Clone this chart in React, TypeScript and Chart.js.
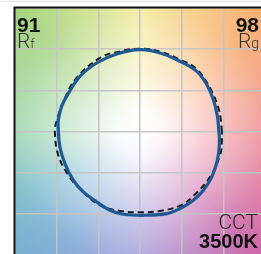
import React, { useEffect, useRef } from "react";
import { Chart, registerables } from "chart.js";

Chart.register(...registerables);

// Test source colour vector curve (normalised a', b')
const testX = [0.943, 0.929, 0.881, 0.802, 0.681, 0.481, 0.24, 0.0, -0.28, -0.52, -0.721, -0.881, -0.941, -0.98, -0.982, -0.962, -0.901, -0.801, -0.681, -0.52, -0.361, -0.201, 0.081, 0.321, 0.481, 0.641, 0.761, 0.862, 0.929, 0.953];
const testY = [0.057, 0.182, 0.386, 0.568, 0.73, 0.852, 0.954, 0.994, 0.942, 0.832, 0.669, 0.426, 0.304, 0.142, 0.057, -0.186, -0.389, -0.591, -0.734, -0.855, -0.956, -1.005, -1.017, -0.998, -0.937, -0.835, -0.713, -0.551, -0.348, -0.146];

// Reference illuminant curve
const refX = [0.982, 0.97, 0.941, 0.841, 0.673, 0.481, 0.24, 0.0, -0.24, -0.481, -0.761, -0.901, -1.001, -1.022, -0.982, -0.862, -0.697, -0.481, -0.24, 0.0, 0.24, 0.481, 0.641, 0.841, 0.962, 0.982];
const refY = [0.0, 0.142, 0.285, 0.528, 0.763, 0.872, 0.97, 1.006, 0.973, 0.893, 0.65, 0.406, 0.122, 0.0, -0.283, -0.527, -0.721, -0.895, -0.965, -0.981, -0.965, -0.9, -0.782, -0.551, -0.283, -0.137];

const axisMin = -1.5;
const axisMax = 1.5;
const axisStep = 0.5;

// hue background colours, clockwise from the +a' direction
const hueFractions = [0, 0.125, 0.25, 0.34, 0.42, 0.5, 0.625, 0.75, 0.875, 1];
const hueColors = ["#f0888e", "#cc66a8", "#a49ada", "#7aa6d6", "#74b8c8", "#98d4ac", "#a6d47e", "#f2ea94", "#f8ae6e", "#f0888e"];

const rfValue = "91";
const rgValue = "98";
const cctValue = "3500K";

const bgPlugin = {
  id: "tm30bg",
  beforeDraw(chart: any) {
    const { ctx, chartArea: a } = chart;
    const w = a.right - a.left;
    const h = a.bottom - a.top;
    const cx = (a.left + a.right) / 2;
    const cy = (a.top + a.bottom) / 2;
    ctx.save();
    ctx.beginPath();
    ctx.rect(a.left, a.top, w, h);
    ctx.clip();
    const g = ctx.createConicGradient(0, cx, cy);
    hueFractions.forEach((f, i) => g.addColorStop(f, hueColors[i]));
    ctx.fillStyle = g;
    ctx.fillRect(a.left, a.top, w, h);
    const r = Math.hypot(w, h) / 2;
    const rg = ctx.createRadialGradient(cx, cy, 0, cx, cy, r);
    rg.addColorStop(0, "rgba(255,255,255,1)");
    rg.addColorStop(0.12, "rgba(255,255,255,0.95)");
    rg.addColorStop(0.45, "rgba(255,255,255,0.5)");
    rg.addColorStop(0.75, "rgba(255,255,255,0.12)");
    rg.addColorStop(1, "rgba(255,255,255,0)");
    ctx.fillStyle = rg;
    ctx.fillRect(a.left, a.top, w, h);
    ctx.restore();
  },
  afterDraw(chart: any) {
    const { ctx, chartArea: a } = chart;
    ctx.save();
    ctx.strokeStyle = "#111";
    ctx.lineWidth = 2;
    ctx.beginPath();
    ctx.moveTo(a.left - 0.5, a.bottom);
    ctx.lineTo(a.left - 0.5, a.top - 0.5);
    ctx.lineTo(a.right, a.top - 0.5);
    ctx.stroke();
    ctx.restore();
  },
};

function toPoints(xs: number[], ys: number[]) {
  const pts = xs.map((x, i) => ({ x, y: ys[i] }));
  pts.push({ ...pts[0] });
  return pts;
}

const TM30Chart = () => {
  const ref = useRef<HTMLCanvasElement>(null);
  useEffect(() => {
    if (!ref.current) return;
    const grid = {
      color: "rgba(196,196,196,0.95)",
      lineWidth: 1.6,
      drawTicks: false,
    };
    const chart = new Chart(ref.current, {
      type: "scatter",
      data: {
        datasets: [
          {
            label: "Test",
            data: toPoints(testX, testY),
            showLine: true,
            borderColor: "#1f5a96",
            borderWidth: 3.2,
            pointRadius: 0,
            tension: 0.4,
            fill: false,
          },
          {
            label: "Reference",
            data: toPoints(refX, refY),
            showLine: true,
            borderColor: "#1a1a1a",
            borderWidth: 2,
            borderDash: [6, 4],
            pointRadius: 0,
            tension: 0.4,
            fill: false,
          },
        ],
      },
      options: {
        responsive: false,
        animation: false,
        devicePixelRatio: 1,
        layout: { padding: { left: 15, top: 8, right: 0, bottom: 0 } },
        plugins: { legend: { display: false }, tooltip: { enabled: false } },
        scales: {
          x: {
            type: "linear",
            min: axisMin,
            max: axisMax,
            ticks: { display: false, stepSize: axisStep },
            grid,
            border: { display: false },
          },
          y: {
            type: "linear",
            min: axisMin,
            max: axisMax,
            ticks: { display: false, stepSize: axisStep },
            grid,
            border: { display: false },
          },
        },
      },
      plugins: [bgPlugin],
    } as any);
    return () => chart.destroy();
  }, []);
  return <canvas ref={ref} width={265} height={255} style={{ width: 265, height: 255, display: "block" }} />;
};

const boldFont = "'Liberation Sans', Arial, sans-serif";
const lightFont = "Roboto, 'Liberation Sans', sans-serif";

export default function App() {
  const abs = (o: any) => ({ position: "absolute" as const, lineHeight: 1, whiteSpace: "nowrap" as const, ...o });
  return (
    <div style={{ position: "fixed", left: 0, top: 0, width: 261, height: 254, overflow: "hidden", background: "#fff" }}>
      <div style={{ position: "absolute", left: 0, top: 0 }}>
        <TM30Chart />
      </div>
      <div style={{ position: "absolute", left: 0, top: 1, width: 261, borderTop: "1px solid #e4e4e4" }} />
      <div style={abs({ left: 17, top: 14, fontFamily: boldFont, fontWeight: 700, fontSize: 21, color: "#111" })}>{rfValue}</div>
      <div style={abs({ left: 17, top: 31, fontFamily: lightFont, fontWeight: 300, fontSize: 21, color: "#333" })}>
        R<span style={{ fontSize: 13 }}>f</span>
      </div>
      <div style={abs({ right: 2, top: 14, fontFamily: boldFont, fontWeight: 700, fontSize: 21, color: "#111", textAlign: "right" })}>{rgValue}</div>
      <div style={abs({ right: 2, top: 31, fontFamily: lightFont, fontWeight: 300, fontSize: 21, color: "#333", textAlign: "right" })}>
        R<span style={{ fontSize: 14 }}>g</span>
      </div>
      <div style={abs({ right: 3, top: 212, fontFamily: lightFont, fontWeight: 300, fontSize: 21, color: "#222", textAlign: "right" })}>CCT</div>
      <div style={abs({ right: 3, top: 231, fontFamily: boldFont, fontWeight: 700, fontSize: 20, color: "#111", textAlign: "right" })}>{cctValue}</div>
    </div>
  );
}
